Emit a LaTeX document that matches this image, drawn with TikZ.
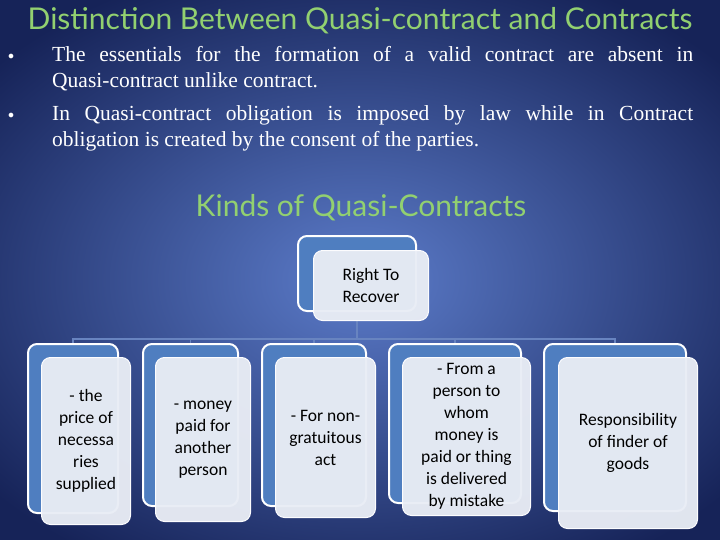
\documentclass[tikz,border=0pt]{standalone}
\usepackage{fontspec}
\setmainfont{Liberation Serif}
\newfontfamily\boxfont{Carlito}
\newfontfamily\headfont{Lato}
\usetikzlibrary{positioning}
\definecolor{bginner}{RGB}{92,124,202}
\definecolor{bgouter}{RGB}{22,35,88}
\definecolor{headgreen}{RGB}{146,208,112}
\definecolor{backblue}{RGB}{79,126,192}
\definecolor{frontgrey}{RGB}{233,237,245}
\definecolor{linkblue}{RGB}{104,132,192}
\pgfdeclarelayer{bg}
\pgfdeclarelayer{links}
\pgfsetlayers{bg,links,main}
\tikzstyle{back} = [rectangle,
                    anchor=north west,
                    rounded corners=9pt,
                    draw=white,
                    line width=2pt,
                    fill=backblue]
\tikzstyle{front} = [rectangle,
                    anchor=north west,
                    rounded corners=9pt,
                    draw=white!85!frontgrey,
                    line width=1pt,
                    fill=frontgrey,
                    fill opacity=0.96,
                    text opacity=1,
                    align=center,
                    inner sep=0pt,
                    font=\boxfont\fontsize{17.5}{22}\selectfont]
\tikzstyle{head} = [text=headgreen,
                   font=\headfont\fontsize{30}{34}\selectfont]
\tikzstyle{link} = [draw=linkblue,
                   line width=1.6pt]
\tikzstyle{slide} = [x=1pt,
                    y=-1pt]

\begin{document}
\begin{tikzpicture}[slide]
    \useasboundingbox (0,0) rectangle (720,540);
    \begin{pgfonlayer}{bg}
      \shade[inner color=bginner, outer color=bgouter] (-120,-50) rectangle (840,610);
    \end{pgfonlayer}
    % heading and bullets
    \node (title) [head, anchor=base] at (360,30) {Distinction Between Quasi-contract and Contracts};
    \node (text) [anchor=north west, inner sep=0pt, text=white] at (52,46)
      {\parbox{641pt}{\fontsize{21.5}{26}\selectfont
        \leavevmode\llap{\makebox[44pt][l]{\fontsize{12}{12}\selectfont\raisebox{2pt}{$\bullet$}}}The essentials for the formation of a valid contract are absent in\linebreak
        Quasi-contract unlike contract.\par\vspace{7pt}
        \leavevmode\llap{\makebox[44pt][l]{\fontsize{12}{12}\selectfont\raisebox{2pt}{$\bullet$}}}In Quasi-contract obligation is imposed by law while in Contract\linebreak
        obligation is created by the consent of the parties.}};
    \node (kinds) [head, anchor=base] at (361,217) {Kinds of Quasi-Contracts};
    % root
    \node (r) [back, minimum width=118pt, minimum height=75pt] at (297,235) {};
    \node (rt) [front, minimum width=115pt, minimum height=70pt] at (313,250) {Right To\\Recover};
    % kinds
    \node (k1) [back, minimum width=90pt, minimum height=169pt] at (27,343) {};
    \node (k1t) [front, minimum width=89pt, minimum height=167pt] at (41,357) {- the\\price of\\necessa\\ries\\supplied};
    \node (k2) [back, minimum width=95pt, minimum height=162pt] at (142,343) {};
    \node (k2t) [front, minimum width=95pt, minimum height=164pt] at (155,357) {- money\\paid for\\another\\person};
    \node (k3) [back, minimum width=104pt, minimum height=162pt] at (261,343) {};
    \node (k3t) [front, minimum width=100pt, minimum height=160pt] at (275,357) {- For non-\\gratuitous\\act};
    \node (k4) [back, minimum width=132pt, minimum height=159pt] at (388,343) {};
    \node (k4t) [front, minimum width=128pt, minimum height=158pt] at (402,357) {- From a\\person to\\whom\\money is\\paid or thing\\is delivered\\by mistake};
    \node (k5) [back, minimum width=142pt, minimum height=167pt] at (543,343) {};
    \node (k5t) [front, minimum width=139pt, minimum height=171pt] at (558,357) {Responsibility\\of finder of\\goods};
    % connectors
    \begin{pgfonlayer}{links}
      \coordinate (bus) at (r.south |- 0,339);
      \path[link]
        (r.south) edge (bus)
        (k1.north) edge [to path={|- (\tikztotarget)}] (bus)
        (k2.north) edge [to path={|- (\tikztotarget)}] (bus)
        (k3.north) edge [to path={|- (\tikztotarget)}] (bus)
        (k4.north) edge [to path={|- (\tikztotarget)}] (bus)
        (k5.north) edge [to path={|- (\tikztotarget)}] (bus);
    \end{pgfonlayer}
\end{tikzpicture}
\end{document}
